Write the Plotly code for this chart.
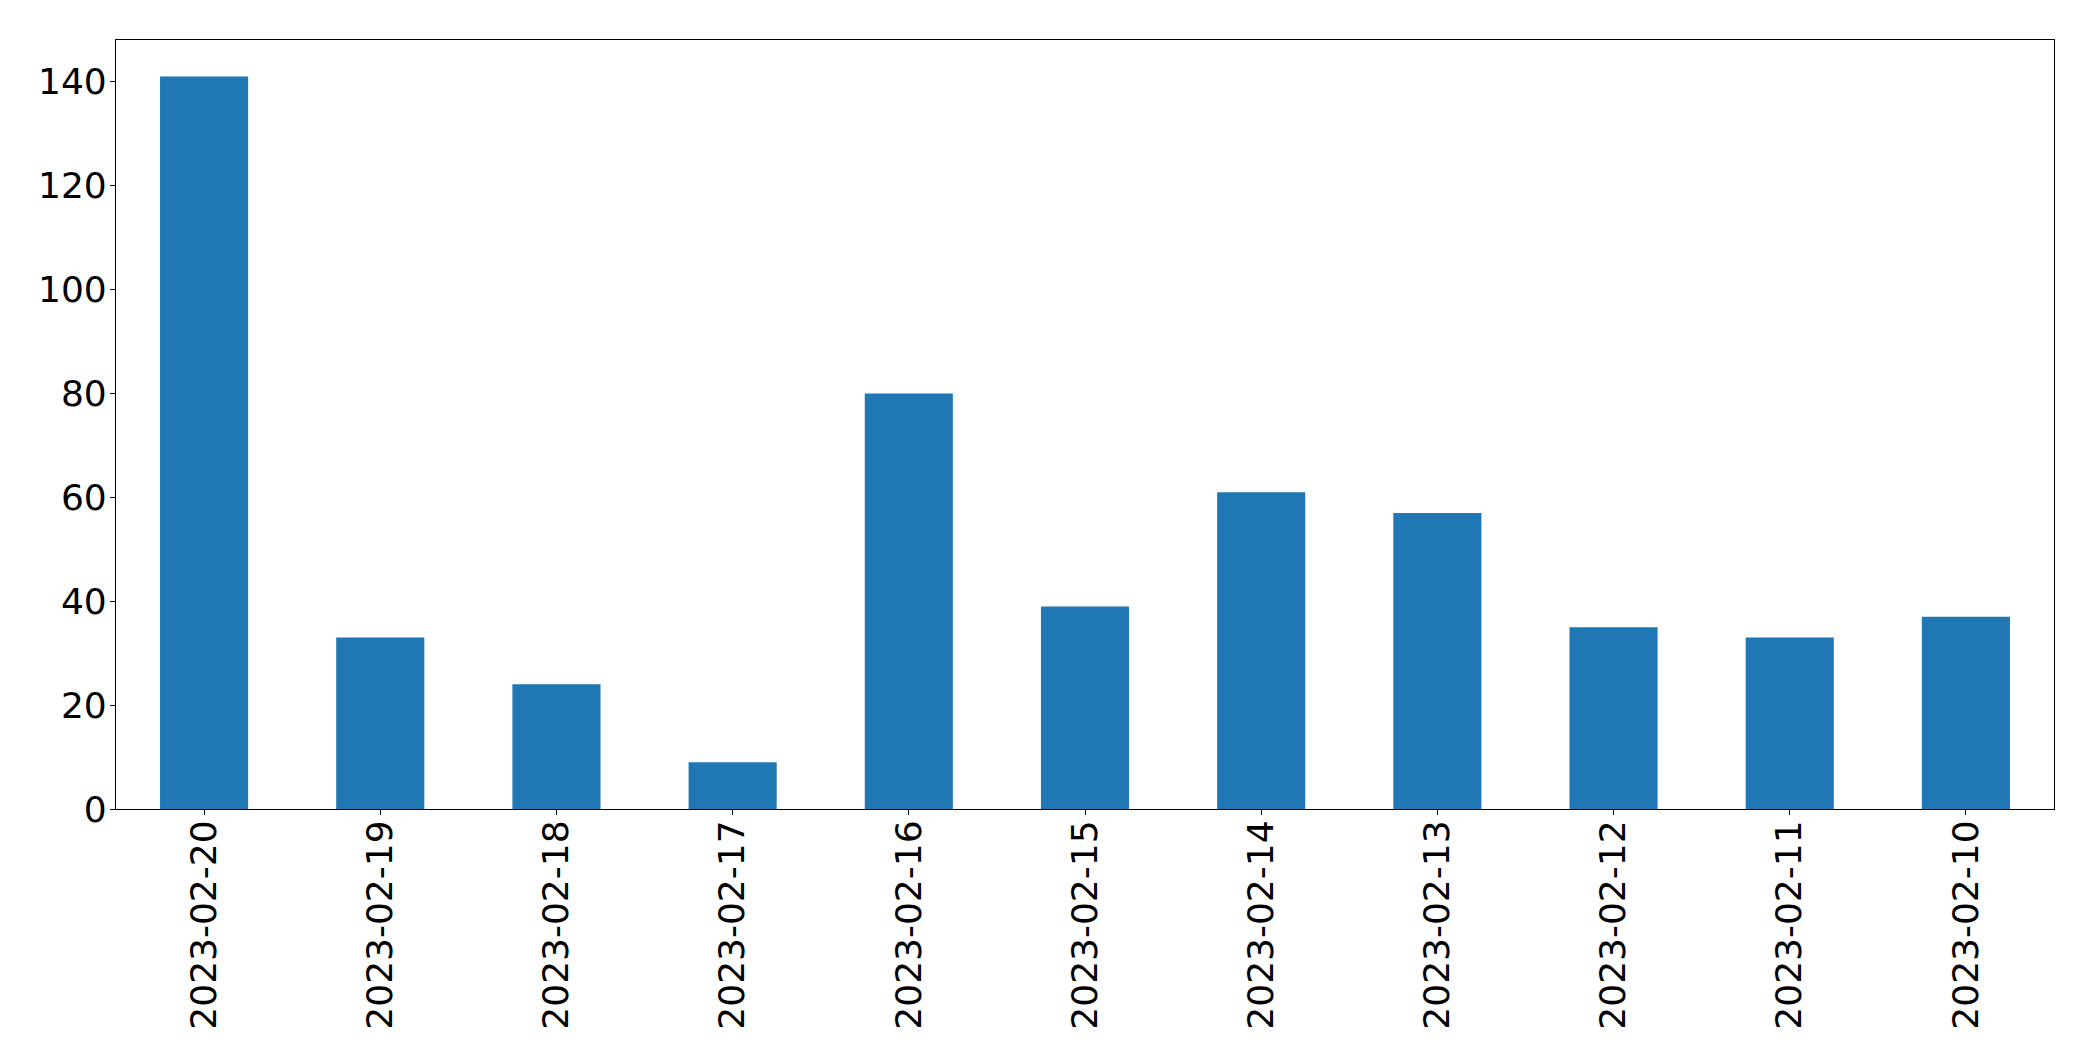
import plotly.graph_objects as go

dates = ["2023-02-20", "2023-02-19", "2023-02-18", "2023-02-17", "2023-02-16", "2023-02-15",
         "2023-02-14", "2023-02-13", "2023-02-12", "2023-02-11", "2023-02-10"]
counts = [141, 33, 24, 9, 80, 39, 61, 57, 35, 33, 37]
y_ticks = [0, 20, 40, 60, 80, 100, 120, 140]

fig = go.Figure(go.Bar(x=dates, y=counts, marker=dict(color="#1f77b4", line=dict(width=0)), width=0.5))

font = dict(family="DejaVu Sans", size=36, color="black")
fig.update_layout(
    width=2093, height=1061,
    margin=dict(l=108, r=47, t=32, b=260),
    paper_bgcolor="white", plot_bgcolor="white",
    showlegend=False, bargap=0.5,
    font=font,
)
fig.update_xaxes(type="category", range=[-0.5, 10.5], tickangle=-90, tickfont=font,
                 showline=True, linecolor="black", linewidth=1.1, mirror=True,
                 ticks="outside", ticklen=5, tickwidth=1.1, tickcolor="black",
                 ticklabelstandoff=-9,
                 showgrid=False, zeroline=False)
fig.update_yaxes(range=[0, 148.05], tickvals=y_ticks, tickfont=font,
                 showline=True, linecolor="black", linewidth=1.1, mirror=True,
                 ticks="outside", ticklen=5, tickwidth=1.1, tickcolor="black",
                 ticklabelstandoff=-4,
                 showgrid=False, zeroline=False)

fig.write_html("out.html")
